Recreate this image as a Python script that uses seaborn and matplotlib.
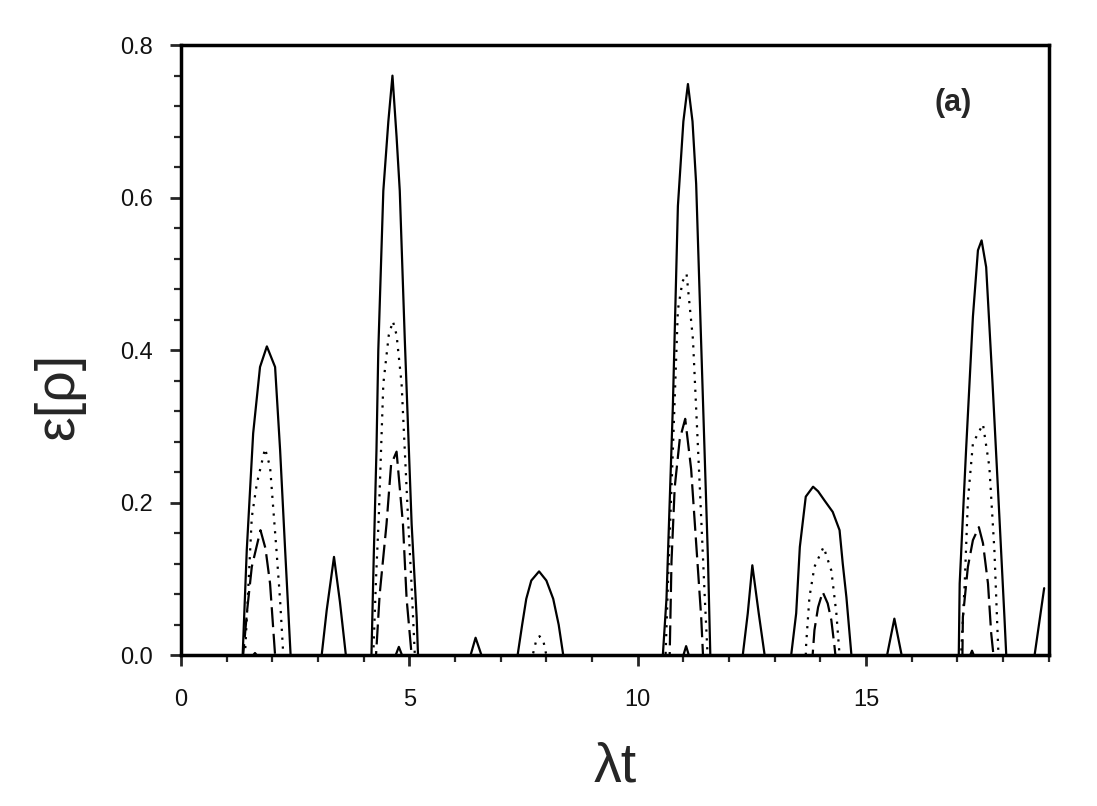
import matplotlib
matplotlib.use("Agg")
import matplotlib.pyplot as plt
from matplotlib.ticker import MultipleLocator
import pandas as pd
import seaborn as sns

# ---- data ----
t_solid = [0.00, 1.35, 1.44, 1.58, 1.73, 1.88, 2.06, 2.17, 2.28, 2.40,
           3.08, 3.19, 3.35, 3.48, 3.61,
           4.17, 4.22, 4.28, 4.32, 4.43, 4.54, 4.63, 4.72, 4.79, 4.90, 5.05, 5.16, 5.19,
           6.34, 6.45, 6.58,
           7.37, 7.47, 7.56, 7.67, 7.84, 8.00, 8.15, 8.27, 8.37,
           10.55, 10.63, 10.77, 10.88, 11.00, 11.10, 11.20, 11.28, 11.43, 11.54, 11.59,
           12.30, 12.41, 12.51, 12.65, 12.78,
           13.36, 13.47, 13.55, 13.68, 13.84, 13.95, 14.09, 14.27, 14.42, 14.49, 14.57, 14.68,
           15.46, 15.62, 15.78,
           17.03, 17.05, 17.19, 17.34, 17.45, 17.53, 17.63, 17.77, 17.92, 18.03, 18.07,
           18.69, 18.90]
e_solid = [0.000, 0.000, 0.138, 0.291, 0.378, 0.405, 0.378, 0.269, 0.138, 0.000,
           0.000, 0.059, 0.129, 0.070, 0.000,
           0.000, 0.129, 0.269, 0.400, 0.609, 0.700, 0.760, 0.680, 0.609, 0.414, 0.172, 0.050, 0.000,
           0.000, 0.023, 0.000,
           0.000, 0.040, 0.074, 0.098, 0.110, 0.098, 0.074, 0.040, 0.000,
           0.000, 0.074, 0.327, 0.589, 0.700, 0.749, 0.700, 0.618, 0.332, 0.123, 0.000,
           0.000, 0.055, 0.118, 0.055, 0.000,
           0.000, 0.055, 0.142, 0.208, 0.221, 0.215, 0.203, 0.188, 0.164, 0.120, 0.076, 0.000,
           0.000, 0.048, 0.000,
           0.000, 0.094, 0.269, 0.444, 0.531, 0.544, 0.509, 0.356, 0.181, 0.050, 0.000,
           0.000, 0.088]

t_dotted = [0.00, 1.40, 1.45, 1.55, 1.66, 1.84, 1.95, 2.09, 2.17, 2.24,
            4.21, 4.27, 4.33, 4.43, 4.55, 4.64, 4.72, 4.83, 4.97, 5.05, 5.12,
            7.70, 7.78, 7.85, 7.93, 8.00,
            10.61, 10.66, 10.77, 10.88, 10.98, 11.07, 11.21, 11.36, 11.47, 11.53,
            13.68, 13.69, 13.76, 13.87, 14.07, 14.24, 14.35, 14.42,
            17.08, 17.16, 17.23, 17.34, 17.56, 17.70, 17.81, 17.88, 17.90,
            19.00]
e_dotted = [0.000, 0.000, 0.060, 0.181, 0.225, 0.271, 0.247, 0.138, 0.072, 0.000,
            0.000, 0.100, 0.181, 0.356, 0.420, 0.438, 0.420, 0.356, 0.181, 0.090, 0.000,
            0.000, 0.020, 0.025, 0.020, 0.000,
            0.000, 0.090, 0.269, 0.453, 0.490, 0.500, 0.414, 0.220, 0.074, 0.000,
            0.000, 0.016, 0.076, 0.116, 0.142, 0.111, 0.055, 0.000,
            0.000, 0.094, 0.203, 0.278, 0.303, 0.247, 0.138, 0.029, 0.000,
            0.000]

t_dashed = [0.00, 1.36, 1.45, 1.55, 1.74, 1.85, 1.95, 2.06,
            4.27, 4.35, 4.50, 4.60, 4.72, 4.86, 4.94, 5.05,
            10.70, 10.74, 10.81, 10.92, 11.04, 11.17, 11.28, 11.39, 11.43,
            13.83, 13.87, 13.95, 14.05, 14.16, 14.24, 14.31, 14.33,
            17.11, 17.12, 17.23, 17.34, 17.47, 17.56, 17.67, 17.74, 17.79,
            19.00]
e_dashed = [0.000, 0.000, 0.060, 0.116, 0.164, 0.140, 0.094, 0.000,
            0.000, 0.080, 0.172, 0.250, 0.267, 0.172, 0.074, 0.000,
            0.000, 0.123, 0.220, 0.283, 0.310, 0.244, 0.147, 0.050, 0.000,
            0.000, 0.033, 0.063, 0.083, 0.068, 0.046, 0.011, 0.000,
            0.000, 0.050, 0.116, 0.151, 0.168, 0.147, 0.094, 0.029, 0.000,
            0.000]

t_fourth = [0.00, 1.58, 1.62, 1.66, 4.70, 4.77, 4.84, 11.00, 11.06, 11.12,
            17.28, 17.32, 17.36, 19.00]
e_fourth = [0.000, 0.000, 0.003, 0.000, 0.000, 0.011, 0.000, 0.000, 0.012, 0.000,
            0.000, 0.006, 0.000, 0.000]

x_major_ticks = [0, 5, 10, 15]
y_major_ticks = [0.0, 0.2, 0.4, 0.6, 0.8]

# ---- style ----
sns.set_style("ticks")
plt.rcParams['font.family'] = ['Liberation Sans', 'DejaVu Sans']

fig = plt.figure(figsize=(10.97, 8.06), dpi=100)
ax = fig.add_axes([0.165, 0.187, 0.791, 0.757])

series = [
    (t_solid, e_solid, '-'),
    (t_dotted, e_dotted, (0, (1, 3))),
    (t_dashed, e_dashed, (0, (9, 3))),
    (t_fourth, e_fourth, '-'),
]
for t, e, ls in series:
    df = pd.DataFrame({'t': t, 'e': e})
    sns.lineplot(data=df, x='t', y='e', ax=ax, color='black', linewidth=1.6,
                 linestyle=ls, sort=False, estimator=None)

ax.set_xlim(0, 19)
ax.set_ylim(0, 0.8)
ax.set_xticks(x_major_ticks)
ax.set_yticks(y_major_ticks)
ax.set_xticklabels([str(v) for v in x_major_ticks])
ax.set_yticklabels([f"{v:.1f}" for v in y_major_ticks])
ax.xaxis.set_minor_locator(MultipleLocator(1))
ax.yaxis.set_minor_locator(MultipleLocator(0.04))

for s in ax.spines.values():
    s.set_linewidth(2.5)
    s.set_color('black')
    s.set_visible(True)

ax.tick_params(axis='both', which='major', direction='out', length=8, width=2,
               labelsize=17, labelcolor='#111111')
ax.tick_params(axis='x', which='major', pad=16)
ax.tick_params(axis='y', which='major', pad=12)
ax.tick_params(axis='both', which='minor', direction='out', length=5, width=1.6)

ax.set_xlabel('λt', fontsize=40)
ax.set_ylabel('ε[ρ]', fontsize=40)
ax.xaxis.set_label_coords(0.5, -0.142)
ax.yaxis.set_label_coords(-0.11, 0.425)

ax.text(0.89, 0.905, '(a)', transform=ax.transAxes, fontsize=22,
        fontweight='bold', ha='center', va='center')

fig.savefig('out.png', dpi=100)
